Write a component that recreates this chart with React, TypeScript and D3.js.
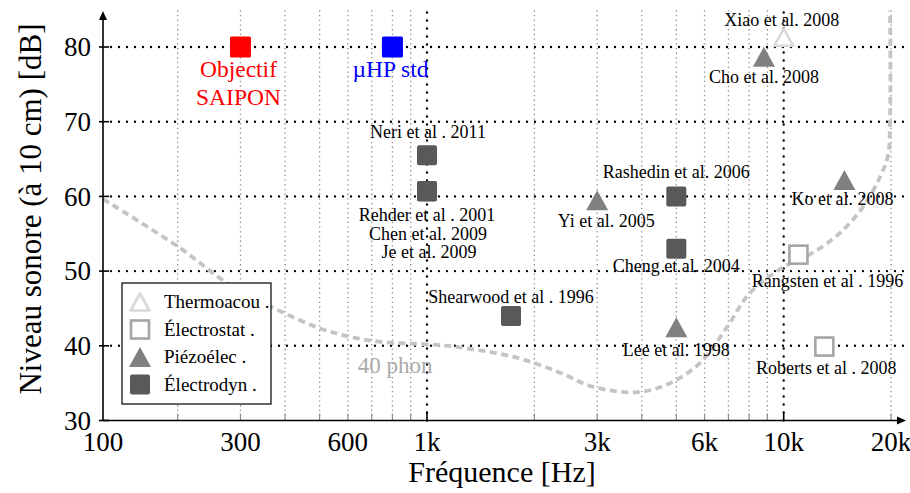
import React from "react";
import * as d3 from "d3";

const W = 910;
const H = 493;

// ---------- data ----------
const studyNames = [
  "Neri et al . 2011",
  "Rehder et al . 2001",
  "Chen et al. 2009",
  "Je et al. 2009",
  "Shearwood et al . 1996",
  "Yi et al. 2005",
  "Rashedin et al. 2006",
  "Cheng et al. 2004",
  "Lee et al. 1998",
  "Cho et al. 2008",
  "Xiao et al. 2008",
  "Rangsten et al . 1996",
  "Roberts et al . 2008",
  "Ko et al. 2008",
];
const studyFreqs = [1000, 1000, 1000, 1000, 1720, 3000, 5000, 5000, 5000, 8800, 10000, 11000, 13000, 14800];
const studyLevels = [65.5, 60.7, 60.7, 60.7, 44.0, 59.5, 60.0, 53.0, 42.5, 78.7, 81.3, 52.2, 39.9, 62.2];
const studyTypes = [
  "electrodyn", "electrodyn", "electrodyn", "electrodyn", "electrodyn",
  "piezo", "electrodyn", "electrodyn", "piezo", "piezo",
  "thermo", "electrostat", "electrostat", "piezo",
];

const targetLines = [["Objectif", "SAIPON"], ["µHP std"]];
const targetFreqs = [300, 800];
const targetLevels = [80, 80];

const phonFreqs = [123.5, 203, 275, 370, 491, 608, 752, 1000, 1237, 1788, 2360, 2921, 3905, 4800, 5829, 6934, 8045, 9950, 12000, 14380, 16690, 18620, 19610, 19860, 19880];
const phonLevels = [59.65, 53.1, 48.4, 45.1, 42.5, 41.2, 40.5, 40.2, 39.8, 38.4, 36.4, 34.5, 33.8, 35.0, 37.7, 42.5, 47.1, 50.5, 52.4, 55.1, 58.6, 62.6, 65.5, 70.2, 84.9];

const yTicks = [30, 40, 50, 60, 70, 80];
const yGrid = [40, 50, 60, 70, 80];
const xTickValues = [123.5, 300, 600, 1000, 3000, 6000, 10000, 20000];
const xTickLabels = ["100", "300", "600", "1k", "3k", "6k", "10k", "20k"];
const xMinorGrid = [200, 300, 400, 500, 600, 700, 800, 900, 2000, 3000, 4000, 5000, 6000, 7000, 8000, 9000, 20000];
const xMajorGrid = [1000, 10000];
const legendTypes = ["thermo", "electrostat", "piezo", "electrodyn"];
const legendLabels = ["Thermoacou .", "Électrostat .", "Piézoélec .", "Électrodyn ."];

// ---------- layout (label placement offsets, px) ----------
const labelOffsets: [number, number][] = [
  [1, -17], [0, 30], [1, 49], [2, 67], [0, -13], [9, 26.5], [0, -18],
  [0, 23.5], [0, 29], [0, 26], [-2, -11.5], [29, 32.5], [2, 27], [-2, 25],
];

const FONT = "'Liberation Serif', 'Times New Roman', Times, serif";

function Marker({ type, cx, cy }: { type: string; cx: number; cy: number }) {
  if (type === "electrodyn") {
    return <rect x={cx - 10} y={cy - 10} width={20} height={20} rx={2} fill="#595959" />;
  }
  if (type === "electrostat") {
    return <rect x={cx - 9} y={cy - 9} width={18} height={18} fill="#ffffff" stroke="#a6a6a6" strokeWidth={2.6} />;
  }
  const pts = `${cx - 11},${cy + 10} ${cx + 11},${cy + 10} ${cx},${cy - 10}`;
  if (type === "piezo") {
    return <polygon points={pts} fill="#808080" strokeLinejoin="round" />;
  }
  const pts2 = `${cx - 9.5},${cy + 8.5} ${cx + 9.5},${cy + 8.5} ${cx},${cy - 8.5}`;
  return <polygon points={pts2} fill="#ffffff" stroke="#d9d9d9" strokeWidth={2.6} strokeLinejoin="round" />;
}

export default function App() {
  const x = d3.scaleLog().domain([1000, 10000]).range([427, 783.7]);
  const y = d3.scaleLinear().domain([30, 80]).range([420.5, 47]);

  const x0 = x(xTickValues[0]);
  const xEnd = 905;
  const y0 = y(30);
  const yTop = 12;

  const phonLine = d3
    .line<number>()
    .x((_, i) => x(phonFreqs[i]))
    .y((d) => y(d))
    .curve(d3.curveCatmullRom.alpha(0.5));
  const phonPath = phonLine(phonLevels) || "";

  const tstyle = { fontFamily: FONT };

  return (
    <svg
      width={W}
      height={H}
      style={{ position: "absolute", left: 0, top: 0, background: "#fff", fontFamily: FONT }}
    >
      <rect width={W} height={H} fill="#fff" />
      <defs>
        <clipPath id="plotclip">
          <rect x={x0} y={4} width={xEnd - x0} height={y0 - 4} />
        </clipPath>
      </defs>

      {/* minor vertical grid */}
      {xMinorGrid.map((f) => (
        <line
          key={"mg" + f}
          x1={x(f)}
          x2={x(f)}
          y1={y0}
          y2={8}
          stroke="#8c8c8c"
          strokeWidth={1.3}
          strokeDasharray="1.3 3.4"
        />
      ))}
      {/* minor ticks */}
      {xMinorGrid.map((f) => (
        <line key={"mt" + f} x1={x(f)} x2={x(f)} y1={y0} y2={y0 - 7} stroke="#8c8c8c" strokeWidth={1.2} />
      ))}
      {/* major vertical grid */}
      {xMajorGrid.map((f) => (
        <line
          key={"Mg" + f}
          x1={x(f)}
          x2={x(f)}
          y1={y0}
          y2={8}
          stroke="#000"
          strokeWidth={2.4}
          strokeLinecap="round"
          strokeDasharray="0 8"
        />
      ))}
      {xMajorGrid.map((f) => (
        <line key={"Mt" + f} x1={x(f)} x2={x(f)} y1={y0} y2={y0 - 8} stroke="#000" strokeWidth={1.6} />
      ))}
      {/* horizontal grid */}
      {yGrid.map((v) => (
        <line
          key={"hg" + v}
          x1={x0 + 8}
          x2={xEnd}
          y1={y(v)}
          y2={y(v)}
          stroke="#000"
          strokeWidth={2.4}
          strokeLinecap="round"
          strokeDasharray="0 8"
        />
      ))}

      {/* 40 phon curve */}
      <path
        d={phonPath}
        fill="none"
        stroke="#c4c4c4"
        strokeWidth={3.8}
        strokeDasharray="7 4.5"
        clipPath="url(#plotclip)"
      />
      <text x={x(1000) - 32} y={373} textAnchor="middle" fontSize={23} fill="#aaaaaa" style={tstyle}>
        40 phon
      </text>

      {/* axes */}
      <line x1={x0} x2={x0} y1={y0} y2={yTop + 6} stroke="#000" strokeWidth={1.6} />
      <polygon points={`${x0 - 4},${yTop + 8} ${x0 + 4},${yTop + 8} ${x0},${yTop - 1}`} fill="#000" />
      <line x1={x0} x2={xEnd - 6} y1={y0} y2={y0} stroke="#000" strokeWidth={1.6} />
      <polygon points={`${xEnd - 8},${y0 - 4} ${xEnd - 8},${y0 + 4} ${xEnd + 1},${y0}`} fill="#000" />
      {yTicks.map((v) => (
        <line key={"yt" + v} x1={x0 - 4} x2={x0 + 6} y1={y(v)} y2={y(v)} stroke="#000" strokeWidth={1.6} />
      ))}
      {yTicks.map((v) => (
        <text key={"yl" + v} x={91} y={y(v)} dy="0.34em" textAnchor="end" fontSize={27} fill="#000" style={tstyle}>
          {v}
        </text>
      ))}
      {xTickValues.map((f, i) => (
        <text key={"xl" + i} x={x(f)} y={451} textAnchor="middle" fontSize={27} fill="#000" style={tstyle}>
          {xTickLabels[i]}
        </text>
      ))}
      <text x={502} y={482} textAnchor="middle" fontSize={30} fill="#000" style={tstyle}>
        Fréquence [Hz]
      </text>
      <text transform="translate(41,209) rotate(-90)" textAnchor="middle" fontSize={31} fill="#000" style={tstyle}>
        Niveau sonore (à 10 cm) [dB]
      </text>

      {/* legend */}
      <rect x={122} y={283} width={149} height={121} fill="#fff" stroke="#000" strokeWidth={1.2} />
      {legendTypes.map((t, i) => {
        const cy = 302 + i * 27.5;
        return (
          <g key={"lg" + t}>
            <Marker type={t} cx={140} cy={cy} />
            <text x={164} y={cy + 6} fontSize={19} fill="#000" style={tstyle}>
              {legendLabels[i]}
            </text>
          </g>
        );
      })}

      {/* targets */}
      {targetFreqs.map((f, i) => {
        const cx = x(f);
        const cy = y(targetLevels[i]);
        const col = i === 0 ? "#ff0000" : "#0000ff";
        return (
          <g key={"tg" + i}>
            <rect x={cx - 10.5} y={cy - 10.5} width={21} height={21} rx={1.5} fill={col} />
            {targetLines[i].map((ln, j) => (
              <text key={j} x={cx - 2} y={cy + 30 + j * 28} textAnchor="middle" fontSize={23.5} fill={col} style={tstyle}>
                {ln}
              </text>
            ))}
          </g>
        );
      })}

      {/* studies */}
      {studyNames.map((n, i) => (
        <Marker key={"mk" + i} type={studyTypes[i]} cx={x(studyFreqs[i])} cy={y(studyLevels[i])} />
      ))}
      {studyNames.map((n, i) => (
        <text
          key={"lb" + i}
          x={x(studyFreqs[i]) + labelOffsets[i][0]}
          y={y(studyLevels[i]) + labelOffsets[i][1]}
          textAnchor="middle"
          fontSize={18}
          fill="#000"
          style={tstyle}
        >
          {n}
        </text>
      ))}
    </svg>
  );
}
